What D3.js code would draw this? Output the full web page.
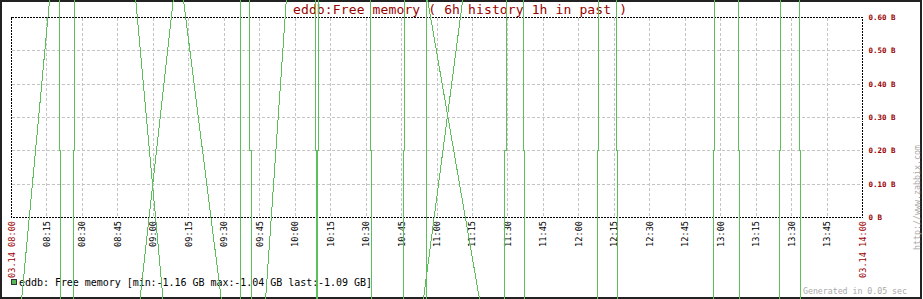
<!DOCTYPE html>
<html>
<head>
<meta charset="utf-8">
<script src="https://cdn.jsdelivr.net/npm/d3@7"></script>
<style>
  body { margin: 0; background: #fff; }
  svg { display: block; }
  text { font-family: "DejaVu Sans Mono", monospace; }
</style>
</head>
<body>
<svg id="graph" width="923" height="299"></svg>
<script>
const svg = d3.select("#graph");
const width = 923;
const height = 299;
const margin = { top: 17.5, right: 60.5, bottom: 81.5, left: 11.5 };

// data
const title = "eddb:Free memory ( 6h history 1h in past )";
const xDomain = ["08:00:00", "14:00:00"];
const xTickLabels = ["08:15", "08:30", "08:45", "09:00", "09:15", "09:30", "09:45",
  "10:00", "10:15", "10:30", "10:45", "11:00", "11:15", "11:30", "11:45",
  "12:00", "12:15", "12:30", "12:45", "13:00", "13:15", "13:30", "13:45"];
const edgeLabels = ["03.14 08:00", "03.14 14:00"];
const yTicks = [0, 0.1, 0.2, 0.3, 0.4, 0.5, 0.6];
const yTickLabels = ["0 B", "0.10 B", "0.20 B", "0.30 B", "0.40 B", "0.50 B", "0.60 B"];
const legendText = "eddb: Free memory [min:-1.16 GB max:-1.04 GB last:-1.09 GB]";

// the series runs far off scale, so only wrapped strokes show up
const V_TOP = 0.66;
const V_BOTTOM = -0.25;
const V_STEP = 0.2;
// slanted strokes: time where it leaves the top, time where it leaves the bottom
const slantTops    = ["08:16:12", "08:52:27", "09:08:32", "09:12:38", "09:56:20", "11:11:00", "10:55:51"];
const slantBottoms = ["08:04:14", "09:04:10", "08:54:16", "09:28:50", "09:47:27", "10:54:10", "11:18:06"];
// near-vertical strokes with a small step at 0.20 B
const stepTops    = ["08:20:26", "08:26:47", "09:37:05", "09:40:49", "10:08:44", "10:10:00",
  "10:31:52", "10:46:23", "10:55:21", "11:29:16", "11:36:43", "12:08:27", "12:16:04",
  "12:57:31", "13:07:40", "13:25:26", "13:33:13"];
const stepBottoms = ["08:20:51", "08:26:21", "09:36:40", "09:41:24", "10:09:09", "10:09:27",
  "10:32:25", "10:45:57", "10:55:41", "11:28:41", "11:37:08", "12:08:01", "12:16:29",
  "12:57:05", "13:08:05", "13:25:01", "13:33:38"];

const parseTime = d3.timeParse("%H:%M:%S");
const t = s => parseTime(s.length === 5 ? s + ":00" : s);

const x = d3.scaleTime()
  .domain(xDomain.map(t))
  .range([margin.left, width - margin.right]);
const y = d3.scaleLinear()
  .domain([0, 0.6])
  .range([height - margin.bottom, margin.top]);

const x0 = x.range()[0], x1 = x.range()[1];
const y0 = y.range()[1], y1 = y.range()[0];

// outer frame
svg.append("rect")
  .attr("x", 1).attr("y", 1)
  .attr("width", width - 3).attr("height", height - 2)
  .attr("fill", "none")
  .attr("stroke", "#222")
  .attr("stroke-width", 2);

// grid
const grid = svg.append("g")
  .attr("stroke", "#c4c4c4")
  .attr("stroke-dasharray", "3,2")
  .attr("shape-rendering", "crispEdges");

grid.selectAll(".vgrid")
  .data(xTickLabels)
  .join("line")
  .attr("class", "vgrid")
  .attr("x1", d => x(t(d))).attr("x2", d => x(t(d)))
  .attr("y1", y0).attr("y2", y1);

grid.selectAll(".hgrid")
  .data(yTicks.filter(v => v > 0 && v < 0.6))
  .join("line")
  .attr("class", "hgrid")
  .attr("x1", x0).attr("x2", x1)
  .attr("y1", d => y(d)).attr("y2", d => y(d));

// dotted plot border
svg.append("rect")
  .attr("x", x0).attr("y", y0)
  .attr("width", x1 - x0).attr("height", y1 - y0)
  .attr("fill", "none")
  .attr("stroke", "#000")
  .attr("stroke-dasharray", "2,1")
  .attr("shape-rendering", "crispEdges");

// title
svg.append("text")
  .attr("x", 460)
  .attr("y", 13.5)
  .attr("text-anchor", "middle")
  .attr("fill", "#990000")
  .attr("font-size", "13px")
  .attr("textLength", 334)
  .text(title);

// y labels on the right
svg.selectAll(".ylab")
  .data(yTicks)
  .join("text")
  .attr("class", "ylab")
  .attr("x", x1 + 6)
  .attr("y", d => y(d) + 2.5)
  .attr("fill", "#990000")
  .attr("font-size", "7.5px")
  .attr("font-weight", "bold")
  .text((d, i) => yTickLabels[i]);

// x labels, rotated
svg.selectAll(".xlab")
  .data(xTickLabels)
  .join("text")
  .attr("class", "xlab")
  .attr("transform", d => `translate(${x(t(d)) + 3},${y1 + 3.5}) rotate(-90)`)
  .attr("text-anchor", "end")
  .attr("fill", "#000")
  .attr("font-size", "8.6px")
  .text(d => d);

svg.selectAll(".edgelab")
  .data(edgeLabels)
  .join("text")
  .attr("class", "edgelab")
  .attr("transform", (d, i) => `translate(${x(t(xDomain[i])) + 3},${y1 + 3.5}) rotate(-90)`)
  .attr("text-anchor", "end")
  .attr("fill", "#990000")
  .attr("font-size", "8.6px")
  .text(d => d);

// legend
svg.append("rect")
  .attr("x", 11.5).attr("y", 279.5)
  .attr("width", 5).attr("height", 5)
  .attr("fill", "#55b855")
  .attr("stroke", "#333");

svg.append("text")
  .attr("x", 19)
  .attr("y", 285.5)
  .attr("fill", "#000")
  .attr("font-size", "10px")
  .attr("textLength", 353)
  .text(legendText);

svg.append("text")
  .attr("x", 803)
  .attr("y", 294)
  .attr("fill", "#aaa")
  .attr("font-size", "8.3px")
  .attr("textLength", 104)
  .text("Generated in 0.05 sec");

svg.append("text")
  .attr("transform", "translate(919.5,250) rotate(-90)")
  .attr("fill", "#aaa")
  .attr("font-size", "8.3px")
  .attr("textLength", 105)
  .text("http://www.zabbix.com");

// series strokes, drawn last like the original
const slants = slantTops.map((tt, i) => [[tt, V_TOP], [slantBottoms[i], V_BOTTOM]]);
const steps = stepTops.map((tt, i) => [
  [tt, V_TOP], [tt, V_STEP], [stepBottoms[i], V_STEP], [stepBottoms[i], V_BOTTOM]
]);

const line = d3.line()
  .x(d => x(t(d[0])))
  .y(d => y(d[1]));

svg.append("g")
  .attr("fill", "none")
  .attr("stroke", "#5cbf5c")
  .attr("stroke-width", 1)
  .attr("shape-rendering", "crispEdges")
  .selectAll("path")
  .data(slants.concat(steps))
  .join("path")
  .attr("d", line);
</script>
</body>
</html>
